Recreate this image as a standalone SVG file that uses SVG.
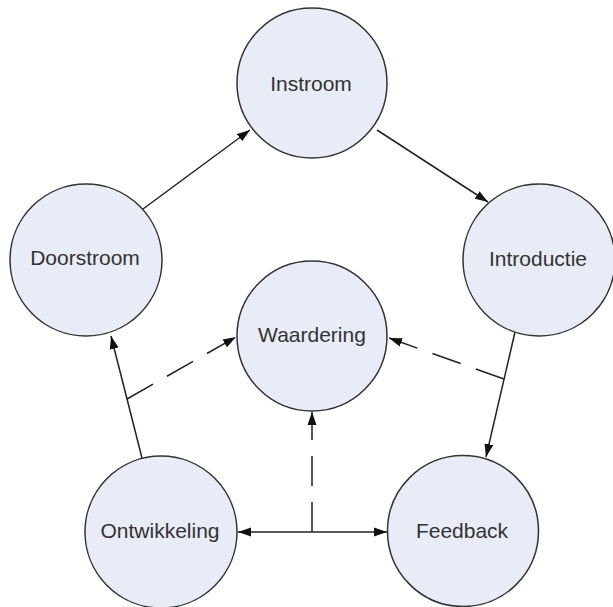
<svg xmlns="http://www.w3.org/2000/svg" width="613" height="607" viewBox="0 0 613 607">
<style>
.node circle{fill:#e8ecf6;stroke:#333;stroke-width:1.5}
.node text{font-family:"Liberation Sans",Arial,sans-serif;font-size:21px;fill:#333;text-anchor:middle}
.conn line{stroke:#222;stroke-width:1.5;fill:none}
.conn .dash{stroke-dasharray:30 16}
</style>
<defs>
<marker id="ah" markerUnits="userSpaceOnUse" markerWidth="14" markerHeight="10" refX="13" refY="5" orient="auto-start-reverse" viewBox="0 0 14 10">
<path d="M0,0.5 L13,5 L0,9.5 z" fill="#111"/>
</marker>
</defs>
<rect width="613" height="607" fill="#fff"/>
<g class="conn">
<line x1="143" y1="209" x2="250" y2="130" marker-end="url(#ah)"/>
<line x1="377" y1="130" x2="488" y2="202" marker-end="url(#ah)"/>
<line x1="515" y1="332" x2="486" y2="457" marker-end="url(#ah)"/>
<line x1="142" y1="458" x2="111" y2="336" marker-end="url(#ah)"/>
<line x1="238" y1="532" x2="387" y2="532" marker-start="url(#ah)" marker-end="url(#ah)"/>
<line class="dash" x1="504" y1="379" x2="389" y2="338" marker-end="url(#ah)"/>
<line class="dash" x1="127" y1="399" x2="236" y2="337" marker-end="url(#ah)"/>
<line class="dash" x1="312" y1="532" x2="312" y2="412" marker-end="url(#ah)"/>
</g>
<g id="instroom" class="node"><circle cx="312" cy="83" r="75"/><text x="311" y="91">Instroom</text></g>
<g id="doorstroom" class="node"><circle cx="86" cy="260" r="76"/><text x="85" y="265">Doorstroom</text></g>
<g id="introductie" class="node"><circle cx="539" cy="260" r="76"/><text x="538" y="266">Introductie</text></g>
<g id="waardering" class="node"><circle cx="312" cy="336" r="75"/><text x="312" y="342">Waardering</text></g>
<g id="ontwikkeling" class="node"><circle cx="161" cy="532" r="76"/><text x="160" y="538">Ontwikkeling</text></g>
<g id="feedback" class="node"><circle cx="463" cy="531" r="75.5"/><text x="462" y="538">Feedback</text></g>
</svg>
